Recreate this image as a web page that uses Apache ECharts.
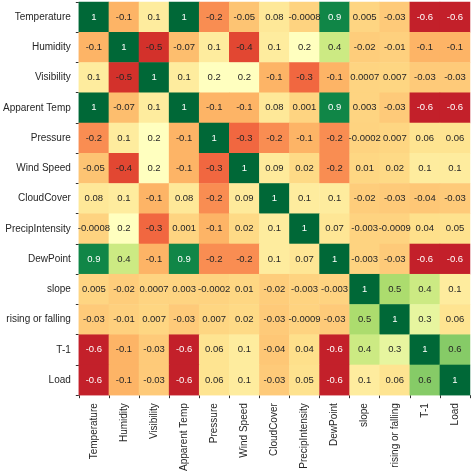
<!DOCTYPE html><html><head><meta charset="utf-8">
<script src="https://cdn.jsdelivr.net/npm/echarts@6/dist/echarts.min.js"></script>
<style>html,body{margin:0;background:#fff}#c{width:474px;height:474px}</style></head><body><div id="c"></div>
<script>
const labels=["Temperature","Humidity","Visibility","Apparent Temp","Pressure","Wind Speed","CloudCover","PrecipIntensity","DewPoint","slope","rising or falling","T-1","Load"];
const matrix=[
[1,-0.1,0.1,1,-0.2,-0.05,0.08,-0.0008,0.9,0.005,-0.03,-0.6,-0.6],
[-0.1,1,-0.5,-0.07,0.1,-0.4,0.1,0.2,0.4,-0.02,-0.01,-0.1,-0.1],
[0.1,-0.5,1,0.1,0.2,0.2,-0.1,-0.3,-0.1,0.0007,0.007,-0.03,-0.03],
[1,-0.07,0.1,1,-0.1,-0.1,0.08,0.001,0.9,0.003,-0.03,-0.6,-0.6],
[-0.2,0.1,0.2,-0.1,1,-0.3,-0.2,-0.1,-0.2,-0.0002,0.007,0.06,0.06],
[-0.05,-0.4,0.2,-0.1,-0.3,1,0.09,0.02,-0.2,0.01,0.02,0.1,0.1],
[0.08,0.1,-0.1,0.08,-0.2,0.09,1,0.1,0.1,-0.02,-0.03,-0.04,-0.03],
[-0.0008,0.2,-0.3,0.001,-0.1,0.02,0.1,1,0.07,-0.003,-0.0009,0.04,0.05],
[0.9,0.4,-0.1,0.9,-0.2,-0.2,0.1,0.07,1,-0.003,-0.03,-0.6,-0.6],
[0.005,-0.02,0.0007,0.003,-0.0002,0.01,-0.02,-0.003,-0.003,1,0.5,0.4,0.1],
[-0.03,-0.01,0.007,-0.03,0.007,0.02,-0.03,-0.0009,-0.03,0.5,1,0.3,0.06],
[-0.6,-0.1,-0.03,-0.6,0.06,0.1,-0.04,0.04,-0.6,0.4,0.3,1,0.6],
[-0.6,-0.1,-0.03,-0.6,0.06,0.1,-0.03,0.05,-0.6,0.1,0.06,0.6,1]];
const data=[];
matrix.forEach((row,i)=>row.forEach((v,j)=>data.push({value:[j,i,v],label:{color:(v>=0.8||v<=-0.55)?'#fff':'#262626'}})));
const ch=echarts.init(document.getElementById('c'));
ch.setOption({
 grid:{left:62,right:4,top:2,bottom:72},
 xAxis:{type:'category',data:labels,axisLine:{show:false},axisTick:{show:true,length:3,lineStyle:{color:'#333'}},
  axisLabel:{rotate:90,fontSize:10,color:'#262626',interval:0,fontFamily:'Liberation Sans'}},
 yAxis:{type:'category',data:labels,inverse:true,axisLine:{show:false},axisTick:{show:true,length:3,lineStyle:{color:'#333'}},
  axisLabel:{fontSize:10,color:'#262626',interval:0,fontFamily:'Liberation Sans'}},
 visualMap:{show:false,min:-0.6,max:1,dimension:2,inRange:{color:['#c3202a','#dc3b2c','#f46d43','#fdae61','#fee08b','#ffffbf','#d9ef8b','#a6d96a','#66bd63','#1a9850','#006837']}},
 series:[{type:'heatmap',data:data,label:{show:true,fontSize:9.5,fontFamily:'Liberation Sans',formatter:p=>String(p.value[2])}}]
});
</script></body></html>
